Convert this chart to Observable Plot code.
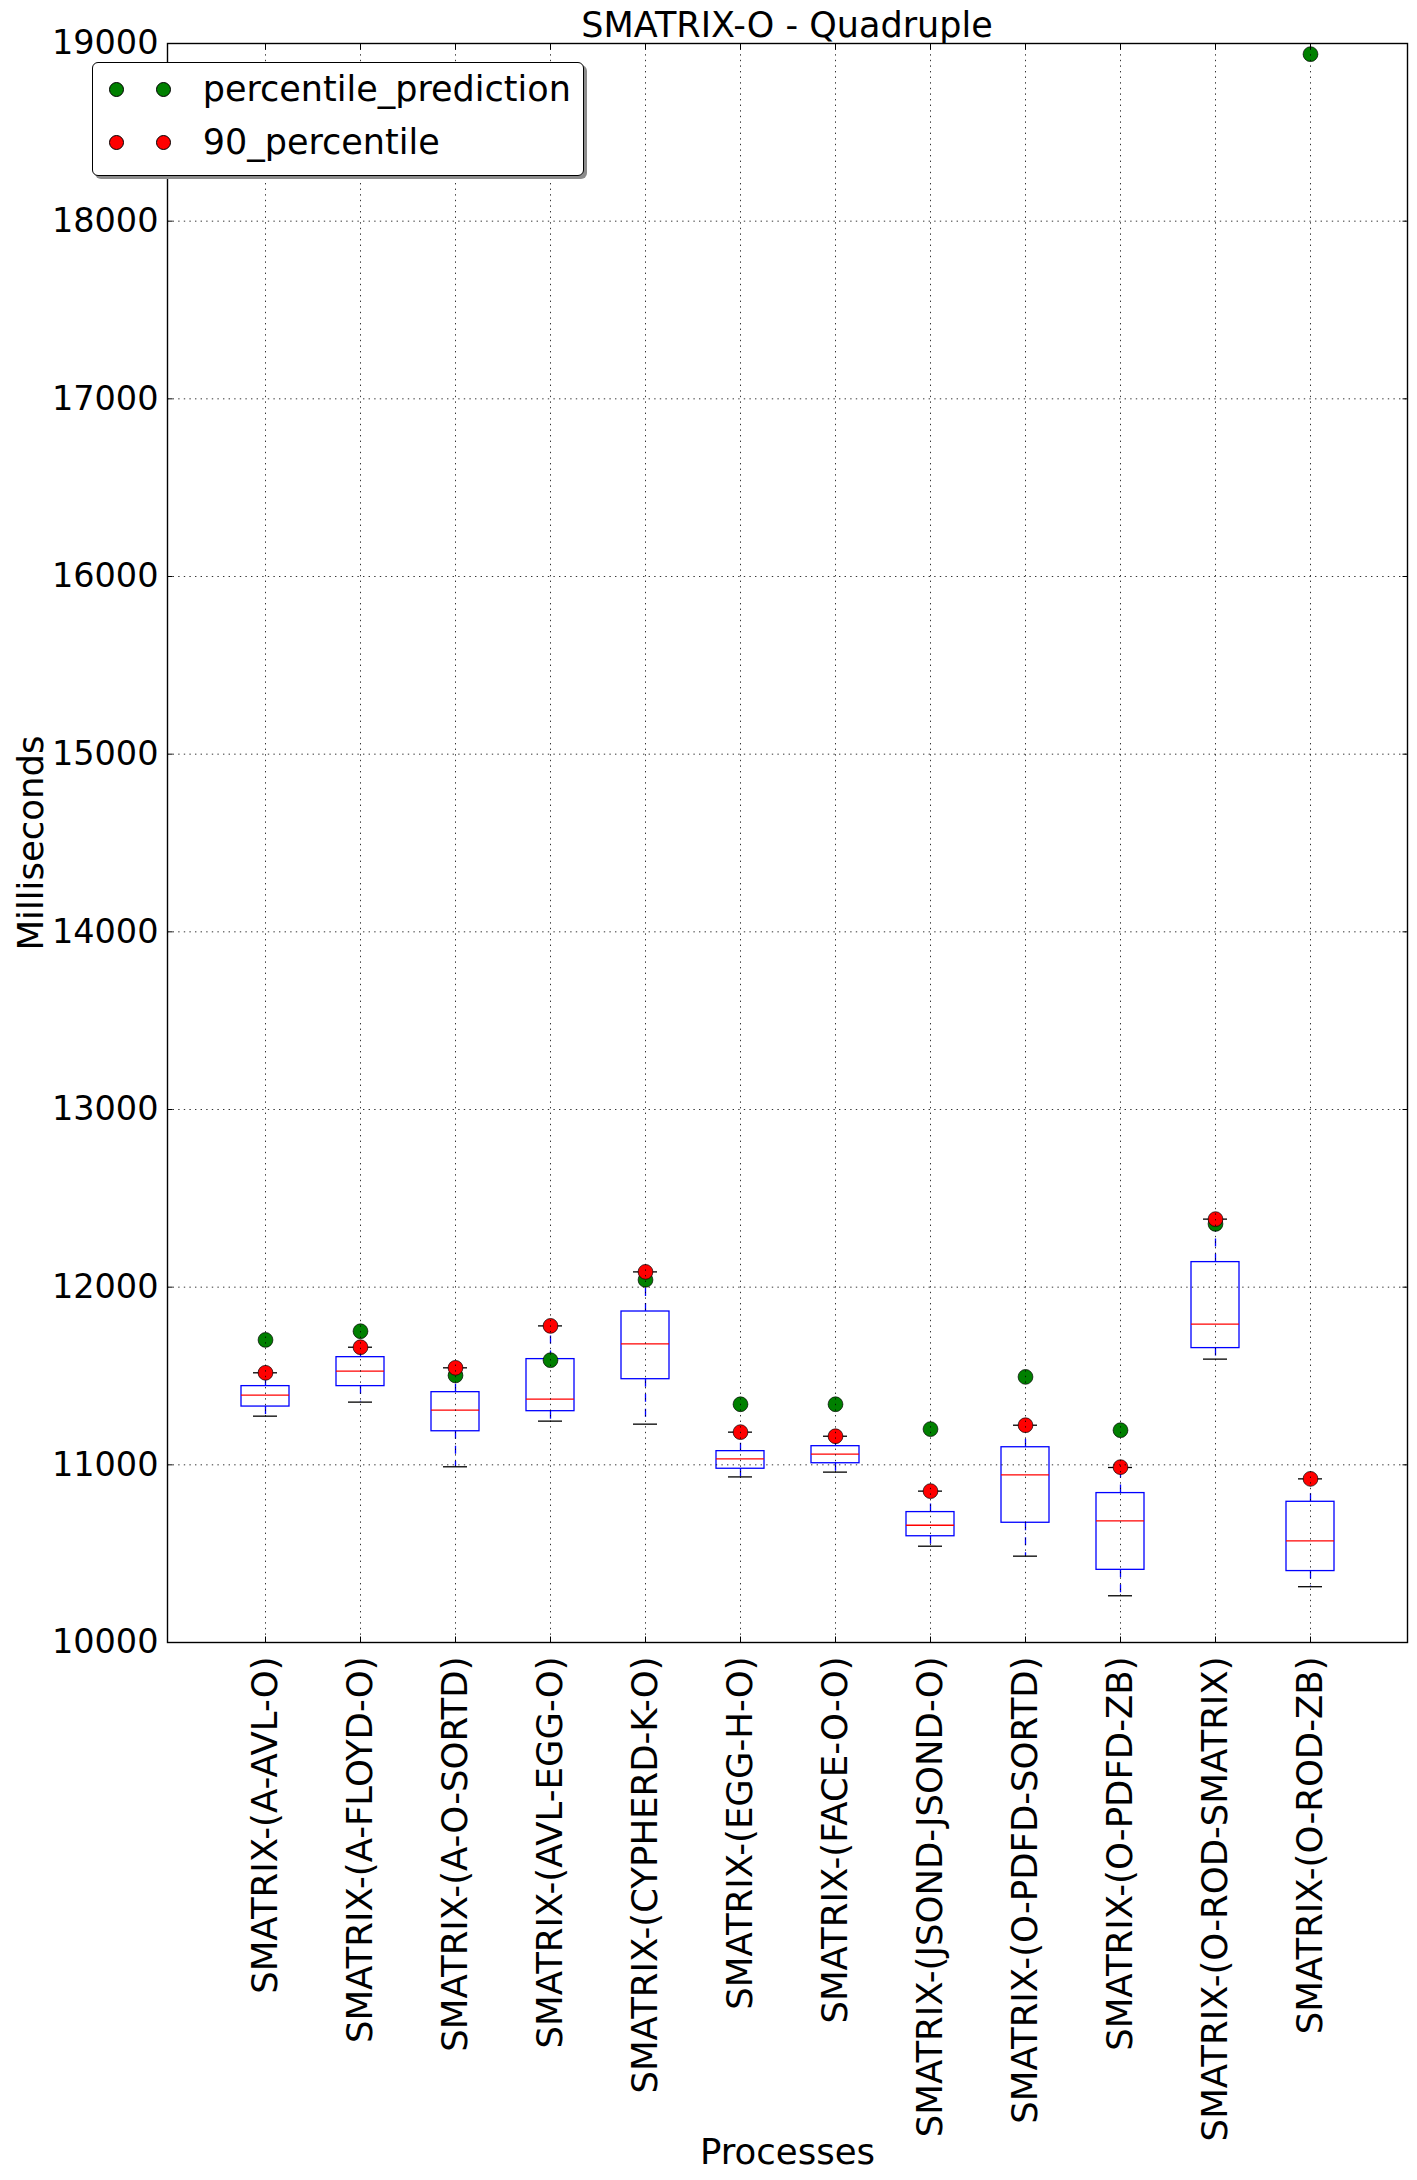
<!DOCTYPE html>
<html>
<head>
<meta charset="utf-8">
<script src="https://cdn.jsdelivr.net/npm/d3@7"></script>
<script src="https://cdn.jsdelivr.net/npm/@observablehq/plot@0.6"></script>
<style>
  body { margin: 0; background: #fff; font-family: "DejaVu Sans", sans-serif; color: #000; }
  #wrap { position: relative; width: 1417px; height: 2180px; overflow: hidden; }
  #title { height: 42px; margin-left: 167px; width: 1240px; text-align: center; font-size: 35px; line-height: 42px; white-space: nowrap; }
  #title span { position: relative; top: 4px; }
  #chart svg { display: block; }
  #legend { position: absolute; z-index: 5; left: 92px; top: 62px; width: 492px; height: 114px; box-sizing: border-box;
            border: 1.3px solid #000; border-radius: 6px; background: #fff; box-shadow: 3px 3px 0 #8c8c8c; }
  #legend .mk { position: absolute; width: 15px; height: 15px; border-radius: 50%; box-sizing: border-box; border: 0.8px solid #000; }
  #legend .lt { position: absolute; left: 109.7px; font-size: 35px; line-height: 40px; white-space: nowrap; }
</style>
</head>
<body>
<div id="wrap">
  <div id="title"><span>SMATRIX-O - Quadruple</span></div>
  <div id="chart"></div>
  <div id="legend"></div>
</div>
<script>
// ---- data ----
const categories = [
  "SMATRIX-(A-AVL-O)", "SMATRIX-(A-FLOYD-O)", "SMATRIX-(A-O-SORTD)", "SMATRIX-(AVL-EGG-O)",
  "SMATRIX-(CYPHERD-K-O)", "SMATRIX-(EGG-H-O)", "SMATRIX-(FACE-O-O)", "SMATRIX-(JSOND-JSOND-O)",
  "SMATRIX-(O-PDFD-SORTD)", "SMATRIX-(O-PDFD-ZB)", "SMATRIX-(O-ROD-SMATRIX)", "SMATRIX-(O-ROD-ZB)"
];
const whiskerLow  = [11274, 11353, 10989, 11246, 11229, 10932, 10959, 10542, 10486, 10263, 11595, 10314];
const quartile1   = [11328, 11443, 11189, 11302, 11482, 10978, 11009, 10598, 10674, 10409, 11657, 10402];
const median      = [11392, 11527, 11308, 11370, 11681, 11034, 11060, 10660, 10944, 10685, 11792, 10572];
const quartile3   = [11443, 11606, 11409, 11595, 11863, 11077, 11105, 10734, 11099, 10841, 12141, 10792];
const whiskerHigh = [11518, 11662, 11546, 11782, 12086, 11184, 11161, 10852, 11223, 10985, 12383, 10921];
const percentile90 = [11518, 11662, 11546, 11782, 12086, 11184, 11161, 10852, 11223, 10987, 12383, 10921];
const percentilePrediction = [11703, 11752, 11503, 11589, 12041, 11341, 11341, 11201, 11495, 11195, 12356, 18940];
const yTicks = [10000, 11000, 12000, 13000, 14000, 15000, 16000, 17000, 18000, 19000];
const legendItems = [
  {label: "percentile_prediction", color: "green"},
  {label: "90_percentile", color: "red"}
];

const rows = categories.map((process, i) => ({
  process,
  lo: whiskerLow[i], q1: quartile1[i], med: median[i], q3: quartile3[i], hi: whiskerHigh[i],
  p90: percentile90[i], pred: percentilePrediction[i]
}));

const tick = -5.5;
const lw = 1.3;
const chart = Plot.plot({
  width: 1417,
  height: 2138,
  marginLeft: 167,
  marginRight: 10,
  marginTop: 1,
  marginBottom: 538,
  style: {fontFamily: '"DejaVu Sans", sans-serif', fontSize: "33.5px", color: "black", background: "white", overflow: "visible"},
  x: {type: "band", domain: categories, paddingInner: 0.5, paddingOuter: 0.75},
  y: {domain: [10000, 19000]},
  marks: [
    Plot.ruleX(rows, {x: "process", y1: "q3", y2: "hi", stroke: "blue", strokeWidth: lw, strokeDasharray: "8,7"}),
    Plot.ruleX(rows, {x: "process", y1: "q1", y2: "lo", stroke: "blue", strokeWidth: lw, strokeDasharray: "8,7"}),
    Plot.barY(rows, {x: "process", y1: "q1", y2: "q3", fill: "none", stroke: "blue", strokeWidth: lw}),
    Plot.tickY(rows, {x: "process", y: "lo", stroke: "black", strokeWidth: lw, inset: 12}),
    Plot.tickY(rows, {x: "process", y: "hi", stroke: "black", strokeWidth: lw, inset: 12}),
    Plot.tickY(rows, {x: "process", y: "med", stroke: "red", strokeWidth: lw}),
    Plot.dot(rows, {x: "process", y: "pred", r: 7.4, fill: "green", stroke: "black", strokeWidth: 0.7}),
    Plot.dot(rows, {x: "process", y: "p90", r: 7.4, fill: "red", stroke: "black", strokeWidth: 0.7}),
    Plot.gridY(yTicks, {stroke: "black", strokeOpacity: 1, strokeWidth: 0.8, strokeDasharray: "1.4,4.2"}),
    Plot.gridX({stroke: "black", strokeOpacity: 1, strokeWidth: 0.8, strokeDasharray: "1.4,4.2"}),
    Plot.axisY(yTicks, {anchor: "left", tickSize: tick, tickPadding: 14.5, tickFormat: "d", fontSize: 33.5, label: null}),
    Plot.axisY([], {anchor: "left", tickSize: 0, fontSize: 35.5,
      label: "Milliseconds", labelAnchor: "center", labelOffset: 150, labelArrow: "none"}),
    Plot.axisY(yTicks, {anchor: "right", tickSize: tick, fill: null, label: null}),
    Plot.axisX({anchor: "bottom", tickSize: tick, tickPadding: 19.5, tickRotate: -90, fontSize: 35.5,
      label: "Processes", labelAnchor: "center", labelOffset: 521, labelArrow: "none"}),
    Plot.axisX({anchor: "top", tickSize: tick, fill: null, label: null}),
    Plot.frame({stroke: "black", strokeWidth: 1.4})
  ]
});
document.getElementById("chart").appendChild(chart);

// legend (matplotlib style, two markers per entry)
const legend = document.getElementById("legend");
const rowMarkerY = [26, 79.4];
const rowTextTop = [6.3, 58.6];
const markerX = [23.7, 70.7];
legendItems.forEach((item, i) => {
  markerX.forEach(cx => {
    const m = document.createElement("span");
    m.className = "mk";
    m.style.left = (cx - 7.5) + "px";
    m.style.top = (rowMarkerY[i] - 7.5) + "px";
    m.style.background = item.color;
    legend.appendChild(m);
  });
  const t = document.createElement("span");
  t.className = "lt";
  t.style.top = rowTextTop[i] + "px";
  t.textContent = item.label;
  legend.appendChild(t);
});
</script>
</body>
</html>
